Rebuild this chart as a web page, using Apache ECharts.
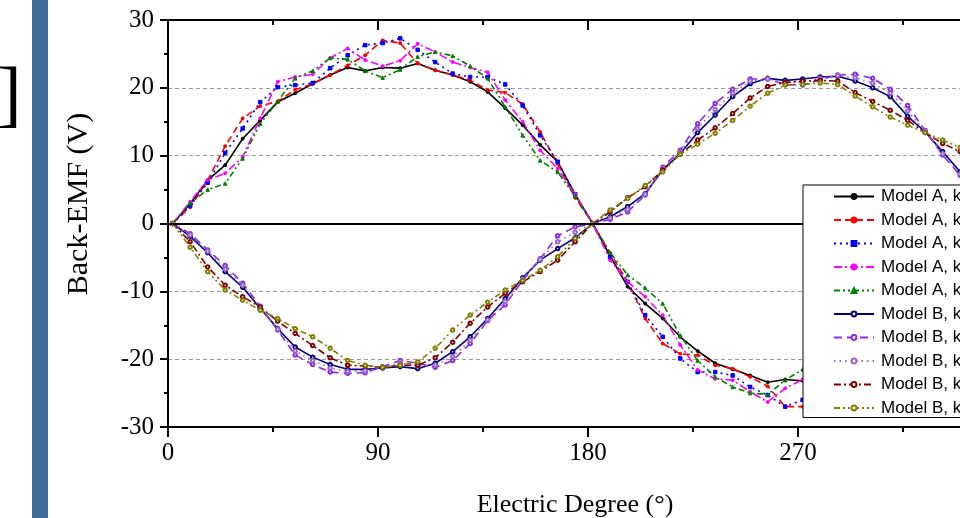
<!DOCTYPE html>
<html><head><meta charset="utf-8">
<script src="https://cdn.jsdelivr.net/npm/echarts@6.0.0/dist/echarts.min.js"></script>
<style>html,body{margin:0;padding:0;background:#fff;overflow:hidden}#c{width:960px;height:518px}</style>
</head><body><div id="c"></div>
<script>
// Electric degree sample positions
const degrees = [2, 9.5, 17, 24.5, 32, 39.5, 47, 54.5, 62, 69.5, 77, 84.5, 92, 99.5, 107, 114.5, 122, 129.5, 137, 144.5, 152, 159.5, 167, 174.5, 182, 189.5, 197, 204.5, 212, 219.5, 227, 234.5, 242, 249.5, 257, 264.5, 272, 279.5, 287, 294.5, 302, 309.5, 317, 324.5, 332, 339.5, 347];

const modelA_k1 = [0, 2.9, 6.4, 8.6, 12.5, 15.2, 17.9, 19.2, 20.6, 21.9, 23.0, 22.5, 23.0, 22.9, 23.6, 22.6, 21.9, 20.9, 19.4, 17.0, 14.5, 11.6, 9.1, 4.3, 0, -4.8, -9.3, -11.8, -14.0, -16.7, -18.8, -20.6, -21.5, -22.4, -23.4, -23.0, -23.2, -23.4, -22.6, -21.9, -20.8, -19.4, -17.0, -14.5, -11.8, -9.3, -6.5];
const modelA_k2 = [0, 2.4, 6.4, 11.4, 15.5, 17.3, 18.0, 19.7, 20.6, 21.9, 23.3, 24.8, 27.0, 26.6, 23.6, 22.6, 21.9, 21.1, 19.7, 19.3, 17.6, 13.5, 8.8, 3.8, 0, -4.4, -8.6, -14.0, -17.7, -19.2, -19.4, -20.9, -21.4, -22.6, -24.0, -27.0, -27.0, -26.5, -25.5, -23.8, -22.4, -21.0, -19.4, -17.5, -13.5, -9.0, -6.0];
const modelA_k3 = [0, 2.6, 6.0, 10.4, 14.0, 17.9, 20.1, 20.4, 20.7, 22.9, 24.8, 26.3, 26.6, 27.3, 25.6, 23.8, 22.1, 21.6, 21.6, 20.5, 17.4, 13.0, 9.1, 4.3, 0, -5.0, -8.6, -13.5, -16.7, -19.9, -21.9, -21.9, -22.4, -24.1, -25.3, -27.0, -26.0, -25.8, -24.5, -23.0, -22.0, -21.2, -20.0, -17.0, -13.0, -9.2, -6.2];
const modelA_k4 = [0, 3.2, 6.4, 7.4, 9.8, 15.5, 20.9, 21.6, 22.0, 24.4, 25.8, 24.1, 23.2, 24.0, 26.5, 25.3, 23.8, 23.0, 22.3, 18.2, 15.0, 10.8, 8.1, 4.3, 0, -5.4, -8.6, -10.8, -13.5, -17.9, -21.6, -22.9, -23.1, -24.8, -26.3, -24.3, -23.0, -24.0, -26.0, -25.0, -23.5, -22.6, -21.0, -18.0, -14.0, -10.0, -7.0];
const modelA_k5 = [0, 3.0, 5.0, 5.9, 9.6, 14.7, 18.0, 21.4, 22.5, 24.4, 24.2, 22.5, 21.5, 22.7, 24.6, 25.3, 24.7, 23.2, 21.4, 17.2, 13.0, 9.3, 7.6, 4.0, 0, -4.3, -7.6, -9.5, -11.8, -16.5, -20.2, -22.6, -24.1, -25.0, -25.2, -23.1, -21.5, -21.5, -23.5, -25.0, -24.5, -23.0, -21.0, -17.0, -12.5, -8.5, -6.0];
const modelB_k1 = [0, -1.9, -4.3, -7.1, -9.4, -12.5, -15.5, -18.2, -19.7, -20.8, -21.5, -21.5, -21.3, -21.1, -21.4, -20.6, -18.9, -16.7, -14.0, -11.1, -8.0, -5.4, -3.7, -2.1, 0, 1.0, 2.5, 4.4, 7.9, 10.3, 13.4, 16.0, 18.7, 20.6, 21.4, 21.1, 21.3, 21.6, 21.7, 21.0, 20.0, 18.7, 15.8, 13.5, 10.6, 7.6, 4.5];
const modelB_k2 = [0, -1.5, -3.9, -6.2, -8.8, -12.2, -15.7, -19.4, -20.8, -21.9, -22.1, -22.0, -21.1, -20.2, -20.6, -21.2, -20.2, -17.7, -14.3, -12.0, -8.4, -5.2, -1.8, -0.5, 0, 0.6, 1.7, 4.2, 8.3, 10.8, 14.7, 17.7, 19.8, 21.3, 21.3, 20.5, 20.4, 21.2, 21.9, 22.0, 21.4, 19.8, 17.4, 13.7, 10.1, 7.1, 4.0];
const modelB_k3 = [0, -1.7, -4.1, -6.7, -9.1, -12.3, -15.6, -18.8, -20.2, -21.3, -21.8, -21.7, -21.2, -20.6, -21.0, -20.9, -19.6, -17.2, -14.2, -11.5, -8.2, -5.3, -2.7, -1.3, 0, 0.8, 2.1, 4.3, 8.1, 10.5, 14.0, 16.8, 19.2, 21.0, 21.3, 20.8, 20.8, 21.4, 21.8, 21.5, 20.7, 19.2, 16.6, 13.6, 10.3, 7.3, 4.2];
const modelB_k4 = [0, -2.7, -6.4, -9.1, -10.8, -12.3, -14.4, -16.2, -18.0, -19.8, -20.9, -21.0, -21.2, -20.9, -20.9, -19.8, -17.5, -14.7, -12.3, -10.3, -8.6, -7.1, -5.4, -2.7, 0, 1.7, 3.8, 5.4, 7.9, 10.2, 12.3, 14.1, 16.2, 18.5, 20.2, 20.8, 21.0, 21.1, 21.0, 19.3, 18.0, 16.7, 15.2, 13.4, 11.8, 10.6, 9.2];
const modelB_k5 = [0, -3.5, -7.1, -9.8, -11.3, -12.8, -14.0, -15.5, -16.7, -18.4, -20.2, -20.9, -21.2, -20.9, -20.4, -18.4, -15.7, -13.5, -11.6, -9.8, -8.4, -6.9, -4.9, -2.2, 0, 2.0, 3.7, 5.6, 7.6, 10.2, 11.7, 13.3, 15.2, 17.3, 19.2, 20.4, 20.5, 20.7, 20.5, 18.8, 17.2, 15.7, 14.5, 13.4, 12.3, 11.2, 10.0];

const seriesNames = ['Model A, k=1', 'Model A, k=2', 'Model A, k=3', 'Model A, k=4', 'Model A, k=5',
                     'Model B, k=1', 'Model B, k=2', 'Model B, k=3', 'Model B, k=4', 'Model B, k=5'];
const xTicks = [0, 90, 180, 270, 360];
const yTicks = [-30, -20, -10, 0, 10, 20, 30];

const seriesValues = [modelA_k1, modelA_k2, modelA_k3, modelA_k4, modelA_k5,
                      modelB_k1, modelB_k2, modelB_k3, modelB_k4, modelB_k5];

const styles = [
  {color:'#000000', dash:'solid', symbol:'circle', size:3},
  {color:'#ff0000', dash:[7,4], symbol:'circle', size:3},
  {color:'#0000ff', dash:[2,4], symbol:'rect', size:3.5},
  {color:'#ff00ff', dash:[8,3,2,3], symbol:'circle', size:3},
  {color:'#008000', dash:[6,3,2,3,2,3], symbol:'triangle', size:3.5},
  {color:'#000080', dash:'solid', symbol:'emptyCircle', size:3.5},
  {color:'#8a2be2', dash:[8,5], symbol:'emptyCircle', size:3.5},
  {color:'#9966cc', dash:[1.5,4], symbol:'emptyCircle', size:3.5},
  {color:'#800000', dash:[7,3,2,3], symbol:'emptyCircle', size:3.5},
  {color:'#808000', dash:[6,3,2,3,2,3], symbol:'emptyCircle', size:3.5}
];

const series = seriesValues.map((vals, i) => {
  const s = styles[i];
  const obj = {
    name: seriesNames[i],
    type: 'line',
    data: degrees.map((d, j) => [d, vals[j]]),
    symbol: s.symbol,
    symbolSize: s.size,
    showSymbol: true,
    lineStyle: {color: s.color, width: 1.6, type: s.dash},
    itemStyle: {color: s.color, borderColor: s.color, borderWidth: 1},
    emphasis: {disabled: true},
    z: 3
  };
  if (i === 0) {
    obj.markLine = {
      silent: true, symbol: 'none', animation: false,
      label: {show: false},
      lineStyle: {color: '#000', width: 2, type: 'solid'},
      data: [{yAxis: 0}]
    };
  }
  return obj;
});

const chart = echarts.init(document.getElementById('c'), null, {renderer: 'canvas'});
const serif = '"Liberation Serif", "Times New Roman", serif';
chart.setOption({
  animation: false,
  backgroundColor: '#ffffff',
  grid: {left: 168, top: 20, width: 840, height: 407, containLabel: false, outerBoundsMode: 'none'},
  xAxis: [
    {
      type: 'value', min: xTicks[0], max: xTicks[xTicks.length - 1], interval: 90, position: 'bottom',
      axisLine: {show: true, onZero: false, lineStyle: {color: '#000', width: 2}},
      axisTick: {show: true, inside: false, length: 10, lineStyle: {color: '#000', width: 2}},
      minorTick: {show: true, splitNumber: 2, length: 5, lineStyle: {color: '#000', width: 2}},
      axisLabel: {show: true, fontFamily: serif, fontSize: 25, color: '#000', margin: 14},
      splitLine: {show: false}
    },
    {
      type: 'value', min: xTicks[0], max: xTicks[xTicks.length - 1], interval: 90, position: 'top',
      axisLine: {show: true, onZero: false, lineStyle: {color: '#000', width: 2}},
      axisTick: {show: true, inside: true, length: 10, lineStyle: {color: '#000', width: 2}},
      minorTick: {show: true, splitNumber: 2, length: 5, lineStyle: {color: '#000', width: 2}},
      axisLabel: {show: false},
      splitLine: {show: false}
    }
  ],
  yAxis: {
    type: 'value', min: yTicks[0], max: yTicks[yTicks.length - 1], interval: 10,
    axisLine: {show: true, onZero: false, lineStyle: {color: '#000', width: 2}},
    axisTick: {show: true, inside: false, length: 8, lineStyle: {color: '#000', width: 2}},
    minorTick: {show: true, splitNumber: 2, length: 4, lineStyle: {color: '#000', width: 2}},
    axisLabel: {fontFamily: serif, fontSize: 25, color: '#000', margin: 14},
    splitLine: {show: true, lineStyle: {color: '#9a9a9a', width: 1, type: [4, 3]}}
  },
  legend: {
    orient: 'vertical', left: 803, top: 185,
    padding: [3, 200, 1, 30],
    itemWidth: 40, itemHeight: 6, itemGap: 6.5,
    backgroundColor: '#ffffff', borderColor: '#000', borderWidth: 1, borderRadius: 0,
    textStyle: {fontFamily: '"Liberation Sans", Arial, sans-serif', fontSize: 17, color: '#000', padding: [0, 0, 0, 2]},
    data: seriesNames,
    z: 10
  },
  graphic: [
    {type: 'rect', shape: {x: 32, y: 0, width: 16, height: 518}, style: {fill: '#3f6d9b'}, z: 100},
    {type: 'text', x: -3, y: 99, z: 100,
      style: {text: ']', font: '74px "Liberation Serif"', fill: '#000', textAlign: 'left', textVerticalAlign: 'middle', align: 'left', verticalAlign: 'middle'}},
    {type: 'text', x: 79, y: 204, rotation: Math.PI / 2, z: 100,
      style: {text: 'Back-EMF (V)', font: '30px "Liberation Serif"', fill: '#000', textAlign: 'center', textVerticalAlign: 'middle', align: 'center', verticalAlign: 'middle'}},
    {type: 'text', x: 575, y: 505, z: 100,
      style: {text: 'Electric Degree (°)', font: '26px "Liberation Serif"', fill: '#000', textAlign: 'center', textVerticalAlign: 'middle', align: 'center', verticalAlign: 'middle'}}
  ],
  series: series
});
</script>
</body></html>
